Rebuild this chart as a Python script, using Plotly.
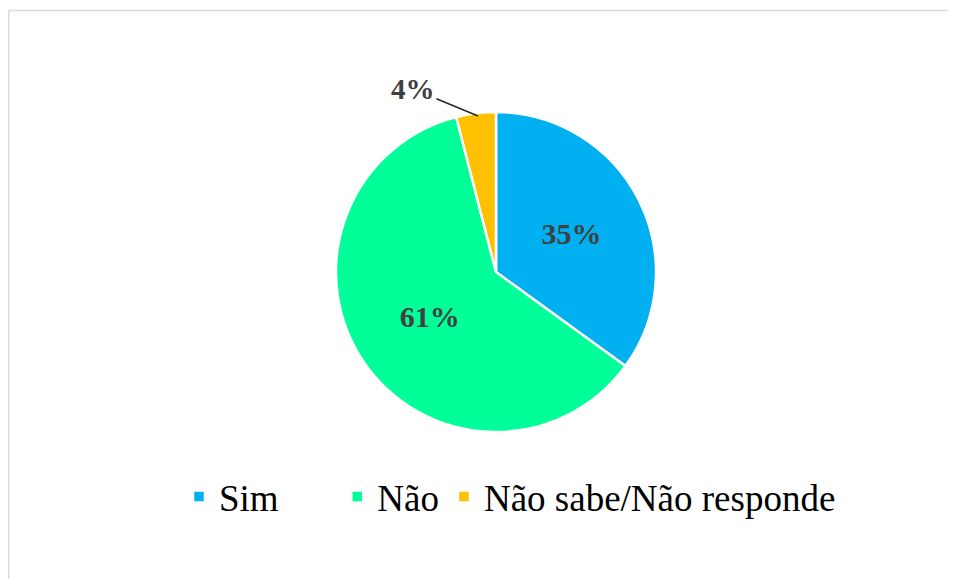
import plotly.graph_objects as go

categories = ["Sim", "Não", "Não sabe/Não responde"]
values = [35, 61, 4]
colors = ["#00B0F0", "#00FF99", "#FFC000"]
label_text = ["35%", "61%", ""]

W, H = 956, 579
OFF = 8  # page body margin offset

def px(x):
    return (x - OFF) / W

def py(y):
    return 1 - (y - OFF) / H

SERIF = "Liberation Serif, Times New Roman, serif"

# legend labels with trailing spacing to mimic the wider gaps of the original legend
legend_pad = ["\u00a0" * 5 + "\u2009", "", ""]
legend_labels = [c + p for c, p in zip(categories, legend_pad)]

fig = go.Figure()
fig.add_trace(go.Pie(
    labels=legend_labels,
    values=values,
    sort=False,
    direction="clockwise",
    rotation=0,
    marker=dict(colors=colors, line=dict(color="white", width=2.5)),
    text=label_text,
    textinfo="text",
    textposition="inside",
    insidetextorientation="horizontal",
    textfont=dict(family=SERIF, size=30, color="#404040", weight="bold"),
    domain=dict(x=[px(496 - 210), px(496 + 210)], y=[py(432), py(112)]),
    hoverinfo="label+percent",
    showlegend=True,
))

# small-slice label with leader line
fig.add_annotation(
    x=px(478), y=py(116), xref="paper", yref="paper",
    text="<b>%d%%</b>" % values[2],
    showarrow=True, arrowhead=0, arrowwidth=1.5, arrowcolor="#262626",
    ax=-65, ay=-27,
    font=dict(family=SERIF, size=29, color="#404040"),
)

# chart-area border
fig.add_shape(type="line", xref="paper", yref="paper",
              x0=0.6 / W, x1=1.0, y0=py(10.5), y1=py(10.5),
              line=dict(color="#D9D9D9", width=1.5))
fig.add_shape(type="line", xref="paper", yref="paper",
              x0=0.6 / W, x1=0.6 / W, y0=0, y1=py(10.5),
              line=dict(color="#D9D9D9", width=1.5))

fig.update_layout(
    width=W, height=H,
    margin=dict(l=0, r=0, t=0, b=0),
    paper_bgcolor="white",
    plot_bgcolor="white",
    font=dict(family=SERIF),
    legend=dict(
        orientation="h", x=px(510), xanchor="center", y=py(497), yanchor="middle",
        font=dict(family=SERIF, size=37, color="#000000"),
        itemclick=False,
    ),
)

fig.write_html("out.html")
